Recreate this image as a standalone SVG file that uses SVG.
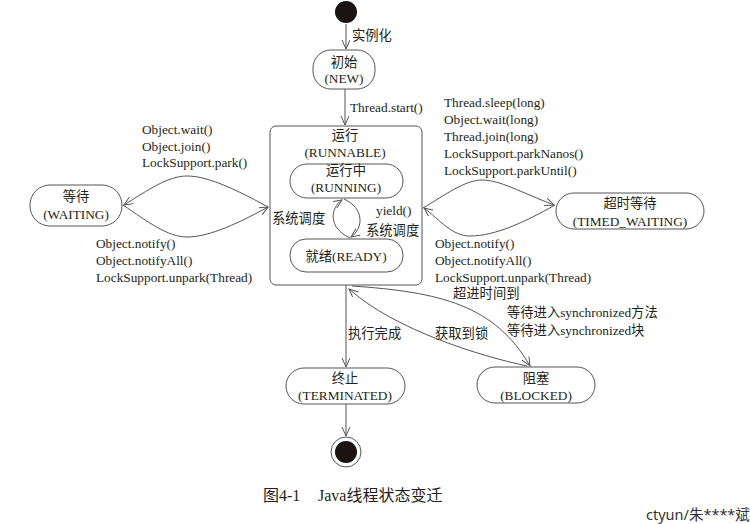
<svg xmlns="http://www.w3.org/2000/svg" width="750" height="524" viewBox="0 0 750 524">
<defs>
<style>
.t{font-family:"Liberation Serif","Noto Sans CJK SC",serif;font-size:13.3px;fill:#231f20}
.c{text-anchor:middle}
.n{fill:#fff;stroke:#555;stroke-width:1}
.e{fill:none;stroke:#555;stroke-width:1}
.cap{font-family:"Liberation Serif","Noto Sans CJK SC",serif;font-size:16px;fill:#231f20}
.wm{font-family:"Noto Sans","Noto Sans CJK SC",sans-serif;font-size:14.5px;fill:#333}
</style>
<marker id="a" markerWidth="10" markerHeight="10" refX="9" refY="4" orient="auto" markerUnits="userSpaceOnUse">
<path d="M0,0 L9,4 L0,8" fill="none" stroke="#555" stroke-width="1"/>
</marker>
</defs>
<rect width="750" height="524" fill="#fff"/>

<g id="start"><circle cx="346" cy="12" r="11" fill="#1a1311"/></g>

<g id="new">
<rect class="n" x="313" y="50" width="62" height="39" rx="18"/>
<text class="t c" x="344" y="67">初始</text>
<text class="t c" x="344" y="83">(NEW)</text>
</g>

<g id="runnable">
<rect class="n" x="270" y="126" width="152" height="159" rx="6"/>
<text class="t c" x="345" y="140">运行</text>
<text class="t c" x="345" y="157">(RUNNABLE)</text>
</g>

<g id="running">
<rect class="n" x="290" y="164" width="113" height="34" rx="17"/>
<text class="t c" x="346" y="175">运行中</text>
<text class="t c" x="346" y="192">(RUNNING)</text>
</g>

<g id="ready">
<rect class="n" x="290" y="239" width="113" height="33" rx="16"/>
<text class="t c" x="346" y="261">就绪(READY)</text>
</g>

<g id="waiting">
<rect class="n" x="30" y="185" width="92" height="41" rx="20"/>
<text class="t c" x="76" y="201">等待</text>
<text class="t c" x="76" y="219">(WAITING)</text>
</g>

<g id="timed_waiting">
<rect class="n" x="556" y="193" width="148" height="36" rx="18"/>
<text class="t c" x="630" y="208">超时等待</text>
<text class="t c" x="630" y="226">(TIMED_WAITING)</text>
</g>

<g id="terminated">
<rect class="n" x="286" y="368" width="119" height="36" rx="18"/>
<text class="t c" x="345" y="383">终止</text>
<text class="t c" x="345" y="400">(TERMINATED)</text>
</g>

<g id="blocked">
<rect class="n" x="477" y="367" width="118" height="36" rx="18"/>
<text class="t c" x="536" y="383">阻塞</text>
<text class="t c" x="536" y="400">(BLOCKED)</text>
</g>

<g id="end">
<circle cx="346" cy="452" r="15" fill="#fff" stroke="#555" stroke-width="1"/>
<circle cx="346" cy="452" r="11" fill="#1a1311"/>
</g>

<g id="edges">
<line class="e" x1="346" y1="24" x2="346" y2="49" marker-end="url(#a)"/>
<line class="e" x1="345" y1="89" x2="345" y2="125" marker-end="url(#a)"/>
<path class="e" d="M268,207 C230,186 205,176 187,176 C168,176 148,190 124,205" marker-end="url(#a)"/>
<path class="e" d="M123,205 C148,222 168,237 187,237 C205,237 230,228 268,207" marker-end="url(#a)"/>
<path class="e" d="M423,208 C445,195 465,180 482,180 C500,180 520,192 554,205" marker-end="url(#a)"/>
<path class="e" d="M555,205 C525,222 495,236 470,236 C452,236 440,220 424,208" marker-end="url(#a)"/>
<path class="e" d="M350,238 C328,228 330,208 342,200" marker-end="url(#a)"/>
<path class="e" d="M344,199 C364,208 364,228 351,237" marker-end="url(#a)"/>
<line class="e" x1="346" y1="285" x2="346" y2="367" marker-end="url(#a)"/>
<line class="e" x1="346" y1="404" x2="346" y2="436" marker-end="url(#a)"/>
<path class="e" d="M352,286 C440,292 495,305 530,366" marker-end="url(#a)"/>
<path class="e" d="M527,366 C480,356 395,330 349,289" marker-end="url(#a)"/>
</g>

<g id="labels">
<text class="t" x="352" y="40">实例化</text>
<text class="t" x="350" y="112">Thread.start()</text>
<text class="t" x="142" y="134">Object.wait()</text>
<text class="t" x="142" y="151">Object.join()</text>
<text class="t" x="142" y="167">LockSupport.park()</text>
<text class="t" x="96" y="248">Object.notify()</text>
<text class="t" x="96" y="265">Object.notifyAll()</text>
<text class="t" x="96" y="282">LockSupport.unpark(Thread)</text>
<text class="t" x="444" y="107">Thread.sleep(long)</text>
<text class="t" x="444" y="124">Object.wait(long)</text>
<text class="t" x="444" y="141">Thread.join(long)</text>
<text class="t" x="444" y="158">LockSupport.parkNanos()</text>
<text class="t" x="444" y="175">LockSupport.parkUntil()</text>
<text class="t" x="435" y="248">Object.notify()</text>
<text class="t" x="435" y="265">Object.notifyAll()</text>
<text class="t" x="435" y="282">LockSupport.unpark(Thread)</text>
<text class="t" x="272" y="223">系统调度</text>
<text class="t" x="376" y="215">yield()</text>
<text class="t" x="366" y="235">系统调度</text>
<text class="t" x="348" y="338">执行完成</text>
<text class="t" x="453" y="298">超进时间到</text>
<text class="t" x="507" y="317">等待进入synchronized方法</text>
<text class="t" x="507" y="335">等待进入synchronized块</text>
<text class="t" x="435" y="338">获取到锁</text>
</g>

<text class="cap" x="263" y="501">图4-1</text>
<text class="cap" x="318" y="501">Java线程状态变迁</text>
<text class="wm" x="646" y="520">ctyun/朱****斌</text>
</svg>
